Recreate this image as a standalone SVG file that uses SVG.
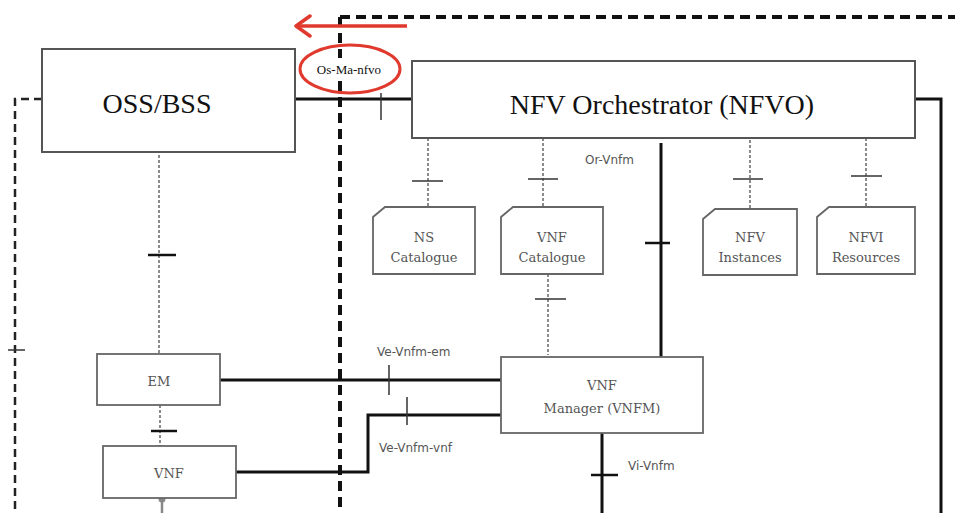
<svg xmlns="http://www.w3.org/2000/svg" width="955" height="513" viewBox="0 0 955 513">
<defs>
<style>
.box{fill:#fff;stroke:#555;stroke-width:2}
.gbox{fill:#fff;stroke:#666;stroke-width:1.8}
.big{font-family:"Liberation Serif",serif;font-size:28px;fill:#111;text-anchor:middle}
.ser{font-family:"Liberation Serif",serif;font-size:13px;fill:#111;text-anchor:middle}
.slab{font-family:"DejaVu Serif","Liberation Serif",serif;font-size:13px;fill:#555;text-anchor:middle}
.lbl{font-family:"DejaVu Sans","Liberation Sans",sans-serif;font-size:12px;fill:#555}
.solid{stroke:#111;stroke-width:3;fill:none}
.dot{stroke:#666;stroke-width:1.5;stroke-dasharray:3 2;fill:none}
.tick{stroke:#333;stroke-width:1.5;fill:none}
.btick{stroke:#111;stroke-width:2.5;fill:none}
</style>
<marker id="ah" viewBox="0 0 20 24" refX="17" refY="12" markerWidth="20" markerHeight="24" markerUnits="userSpaceOnUse" orient="auto">
<path d="M3,2 L17,12 L3,22" fill="none" stroke="#e03a2f" stroke-width="3.5" stroke-linecap="round" stroke-linejoin="round"/>
</marker>
</defs>
<rect width="955" height="513" fill="#fff"/>

<g id="connectors">
<path d="M340,17 H955" stroke="#111" stroke-width="4" stroke-dasharray="10 6" fill="none"/>
<path d="M340,17 V513" stroke="#111" stroke-width="4" stroke-dasharray="10 6" fill="none"/>
<path d="M42,99 H15 V513" stroke="#222" stroke-width="2.5" stroke-dasharray="8 5" fill="none"/>
<path d="M8,350 H25" class="tick"/>
<path d="M295,99 H412" class="solid"/>
<path d="M381,93 V120" class="tick"/>
<path d="M915,99 H941 V513" class="solid"/>
<path d="M428,138 V207" class="dot"/>
<path d="M412,181 H443" class="tick"/>
<path d="M543,138 V207" class="dot"/>
<path d="M528,179 H558" class="tick"/>
<path d="M750,140 V209" class="dot"/>
<path d="M733,179 H763" class="tick"/>
<path d="M866,138 V207" class="dot"/>
<path d="M851,176 H882" class="tick"/>
<path d="M661,143 V357" class="solid"/>
<path d="M645,243 H670" class="btick"/>
<path d="M548,274 V355" class="dot"/>
<path d="M535,299 H566" class="tick"/>
<path d="M159,155 V354" class="dot"/>
<path d="M148,255 H176" class="btick" stroke-width="2"/>
<path d="M160,405 V446" class="dot"/>
<path d="M151,431 H177" class="btick" stroke-width="2"/>
<path d="M220,380 H501" class="solid"/>
<path d="M389,365 V395" class="tick"/>
<path d="M236,472 H368 V415 H501" class="solid"/>
<path d="M407,397 V425" class="tick"/>
<path d="M602,433 V513" class="solid"/>
<path d="M591,475 H618" class="btick" stroke-width="2"/>
<path d="M162,498 V513" stroke="#888" stroke-width="2.5"/>
<circle cx="162" cy="499" r="3.5" fill="#888"/>
<text class="lbl" x="585" y="164">Or-Vnfm</text>
<text class="lbl" x="377" y="356">Ve-Vnfm-em</text>
<text class="lbl" x="379" y="452">Ve-Vnfm-vnf</text>
<text class="lbl" x="628" y="470">Vi-Vnfm</text>
</g>

<g id="oss-bss">
<rect class="box" x="42" y="49" width="253" height="103"/>
<text class="big" x="157" y="113">OSS/BSS</text>
</g>

<g id="nfvo">
<rect class="box" x="412" y="61" width="503" height="77"/>
<text class="big" x="662" y="114">NFV Orchestrator (NFVO)</text>
</g>

<g id="annotation">
<path d="M407,26 H296" stroke="#e03a2f" stroke-width="3.5" fill="none" marker-end="url(#ah)"/>
<rect x="302" y="58" width="94" height="22" fill="#fff"/>
<ellipse cx="350" cy="69" rx="50" ry="24" fill="none" stroke="#e03a2f" stroke-width="3"/>
<text class="ser" x="349" y="74">Os-Ma-nfvo</text>
</g>

<g id="ns-catalogue">
<path class="gbox" d="M385,207 H475 V274 H373 V217 Z"/>
<text class="slab" x="424" y="242">NS</text>
<text class="slab" x="424" y="262">Catalogue</text>
</g>

<g id="vnf-catalogue">
<path class="gbox" d="M513,207 H603 V274 H501 V217 Z"/>
<text class="slab" x="552" y="242">VNF</text>
<text class="slab" x="552" y="262">Catalogue</text>
</g>

<g id="nfv-instances">
<path class="gbox" d="M715,209 H797 V275 H703 V219 Z"/>
<text class="slab" x="750" y="242">NFV</text>
<text class="slab" x="750" y="262">Instances</text>
</g>

<g id="nfvi-resources">
<path class="gbox" d="M829,207 H915 V274 H817 V217 Z"/>
<text class="slab" x="866" y="242">NFVI</text>
<text class="slab" x="866" y="262">Resources</text>
</g>

<g id="vnfm">
<rect class="gbox" x="501" y="357" width="202" height="76"/>
<text class="slab" x="602" y="390" font-size="15">VNF</text>
<text class="slab" x="602" y="413" font-size="15">Manager (VNFM)</text>
</g>

<g id="em">
<rect class="gbox" x="97" y="354" width="123" height="51"/>
<text class="slab" x="159" y="386" font-size="14">EM</text>
</g>

<g id="vnf">
<rect class="gbox" x="103" y="446" width="133" height="52"/>
<text class="slab" x="169" y="478" font-size="14">VNF</text>
</g>
</svg>
